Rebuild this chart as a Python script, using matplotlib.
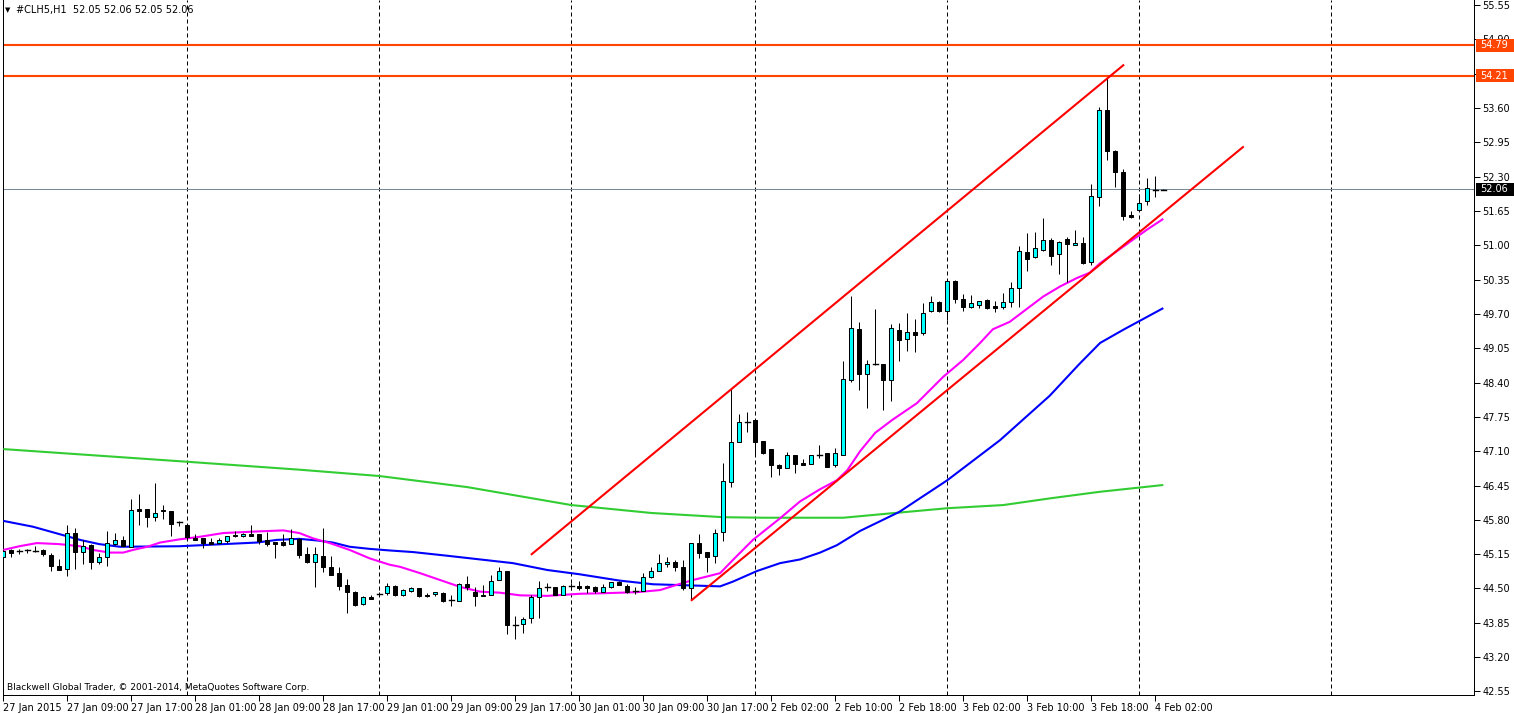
import matplotlib
matplotlib.use('Agg')
import matplotlib.pyplot as plt
from matplotlib.patches import Rectangle

# ---------------- data ----------------
opens = [45.10,45.23,45.21,45.22,45.21,45.23,45.13,44.93,44.86,45.56,45.20,45.32,45.01,45.10,45.35,45.41,45.29,46.00,46.00,45.85,
         45.99,45.97,45.75,45.70,45.45,45.46,45.38,45.37,45.39,45.52,45.49,45.54,45.53,45.41,45.38,45.38,45.35,45.44,45.15,45.01,
         45.12,44.91,44.79,44.56,44.43,44.20,44.34,44.40,44.42,44.55,44.37,44.46,44.50,44.37,44.39,44.41,44.29,44.27,44.58,44.44,
         44.38,44.37,44.66,44.83,43.80,43.83,43.95,44.33,44.52,44.52,44.38,44.54,44.55,44.55,44.53,44.44,44.52,44.63,44.55,44.46,
         44.46,44.71,44.84,44.96,45.00,44.90,44.50,45.37,45.20,45.11,45.57,46.51,47.27,47.65,47.69,47.29,47.14,46.84,46.79,47.03,
         46.88,46.85,47.03,47.06,46.83,47.03,48.44,49.41,48.56,48.76,48.75,48.44,49.40,49.22,49.35,49.33,49.76,49.93,49.76,50.32,
         49.98,49.84,49.87,49.96,49.85,49.84,49.92,50.20,50.87,50.77,50.92,51.10,50.83,51.12,51.01,51.05,50.68,51.91,53.57,52.79,
         52.38,51.57,51.67,51.83,52.05,52.05]
highs = [45.23,45.24,45.25,45.25,45.30,45.25,45.17,45.05,45.70,45.64,45.42,45.34,45.18,45.59,45.56,45.50,46.19,46.29,46.00,46.49,
         46.08,45.97,45.78,45.70,45.53,45.46,45.46,45.45,45.49,45.58,45.55,45.70,45.53,45.57,45.38,45.53,45.62,45.46,45.29,45.29,
         45.64,45.12,44.91,44.68,44.46,44.35,44.38,44.43,44.60,44.56,44.49,44.52,44.51,44.41,44.44,44.44,44.38,44.60,44.74,44.53,
         44.57,44.76,44.90,44.83,43.98,43.96,44.38,44.64,44.60,44.52,44.57,44.60,44.65,44.57,44.55,44.59,44.63,44.64,44.58,44.52,
         44.80,44.90,45.15,45.09,45.03,45.03,45.37,45.53,45.20,45.63,46.88,48.28,47.80,47.84,47.69,47.30,47.15,46.86,47.09,47.03,
         46.96,47.03,47.22,47.07,47.17,48.80,50.04,49.55,48.82,49.79,48.76,49.51,49.53,49.72,49.60,49.91,50.04,49.95,50.34,50.34,
         50.08,50.06,49.95,49.98,49.94,50.09,50.31,50.99,51.23,51.25,51.52,51.13,51.08,51.15,51.29,51.16,52.17,53.62,54.18,52.80,
         52.45,51.65,51.97,52.28,52.31,52.06]
lows = [45.07,45.09,45.15,45.18,45.20,45.12,44.84,44.85,44.74,44.87,44.96,44.87,44.96,44.93,45.32,45.30,45.29,45.70,45.66,45.78,
        45.81,45.50,45.69,45.42,45.41,45.27,45.35,45.34,45.37,45.47,45.47,45.49,45.34,45.31,45.08,45.31,45.35,45.08,44.98,44.52,
        44.82,44.76,44.48,44.03,44.17,44.19,44.30,44.38,44.38,44.36,44.36,44.43,44.33,44.33,44.36,44.25,44.16,44.26,44.48,44.17,
        44.35,44.37,44.66,43.64,43.54,43.66,43.85,43.95,44.46,44.38,44.38,44.48,44.47,44.41,44.41,44.44,44.50,44.57,44.42,44.39,
        44.46,44.70,44.84,44.91,44.84,44.47,44.28,45.07,44.81,44.99,45.39,46.42,47.27,47.47,47.03,47.05,46.62,46.65,46.78,46.68,
        46.83,46.85,46.98,46.80,46.81,47.02,48.42,48.25,47.91,48.73,47.88,48.06,48.80,48.99,48.97,49.31,49.74,49.74,49.58,49.90,
        49.76,49.82,49.82,49.79,49.74,49.80,49.84,49.84,50.52,50.76,50.90,50.63,50.45,50.31,51.00,50.64,50.63,51.75,52.61,52.11,
        51.47,51.51,51.66,51.76,51.92,52.05]
closes = [45.21,45.18,45.21,45.22,45.21,45.15,44.93,44.85,45.56,45.20,45.30,45.01,45.09,45.37,45.41,45.30,45.98,45.97,45.86,45.93,
          45.96,45.73,45.75,45.47,45.42,45.37,45.35,45.41,45.49,45.49,45.53,45.50,45.39,45.35,45.35,45.32,45.46,45.14,45.00,45.15,
          44.90,44.76,44.55,44.43,44.19,44.33,44.31,44.40,44.54,44.38,44.48,44.50,44.35,44.35,44.43,44.26,44.29,44.58,44.52,44.35,
          44.35,44.65,44.84,43.80,43.80,43.93,44.33,44.50,44.52,44.38,44.55,44.54,44.51,44.50,44.46,44.52,44.62,44.57,44.44,44.46,
          44.71,44.84,44.98,45.00,44.91,44.50,45.37,45.18,45.10,45.56,46.54,47.27,47.65,47.65,47.28,47.06,46.83,46.79,47.03,46.85,
          46.83,47.02,47.03,46.81,47.06,48.46,49.43,48.56,48.76,48.76,48.44,49.43,49.21,49.35,49.31,49.71,49.93,49.76,50.33,49.98,
          49.84,49.90,49.94,49.82,49.81,49.92,50.20,50.89,50.74,50.94,51.10,50.80,51.07,51.02,51.05,50.66,51.93,53.56,52.79,52.39,
          51.56,51.53,51.81,52.08,52.05,52.06]

# moving averages (bar index, price)
ma_fast_x = [0,2,4.2,7,9.6,11.2,13.3,15,16.2,18,19.6,22,24.6,27.5,31.7,35,37,38.7,40.8,43.3,45.8,48.3,49.6,52.1,54.6,57.1,59.6,
             62.1,64.6,68,72.1,75,79.2,82.1,84.2,86.2,88.3,89.6,91.2,93.7,97.1,99.6,102.1,104.2,105.5,107.1,109,111.1,114.2,117.5,
             120,122.1,123.7,125.8,130,132.1,134.2,135.8,137.1,142.9,145]
ma_fast_y = [45.23,45.30,45.36,45.34,45.30,45.23,45.18,45.18,45.23,45.29,45.37,45.43,45.48,45.55,45.58,45.60,45.55,45.45,45.36,
             45.23,45.07,44.95,44.91,44.79,44.66,44.53,44.44,44.42,44.37,44.36,44.40,44.41,44.43,44.47,44.57,44.66,44.74,44.79,
             45.04,45.42,45.83,46.15,46.38,46.55,46.74,47.10,47.45,47.69,48.01,48.51,48.83,49.15,49.41,49.55,50.03,50.22,50.38,50.48,
             50.66,51.29,51.50]
ma_mid_x = [0,3.7,7,9.6,12,14.6,22,27.5,31.7,34.2,37,39.2,41.2,43.3,45.8,48.3,51.2,55.5,59.6,63.7,68,72,77,81.2,85.5,89.6,91.2,
            94.2,97.1,99.6,102.1,104.2,107.1,112,118,124.6,130.8,134.5,137.1,140,145]
ma_mid_y = [45.78,45.67,45.53,45.42,45.34,45.29,45.30,45.34,45.37,45.42,45.44,45.41,45.37,45.29,45.25,45.22,45.19,45.12,45.05,
            44.98,44.85,44.77,44.65,44.58,44.56,44.54,44.63,44.83,44.98,45.05,45.18,45.32,45.59,45.95,46.55,47.31,48.15,48.75,49.15,49.40,49.81]
ma_slow_x = [0,23,37,47,58,71,81,90,95,105,110,118,125,131,137,145]
ma_slow_y = [47.14,46.90,46.75,46.63,46.42,46.08,45.93,45.85,45.84,45.84,45.91,46.02,46.08,46.21,46.33,46.46]

# drawn objects
trend_upper = [(66.05, 45.15), (140.0, 54.41)]
trend_lower = [(86.05, 44.28), (154.96, 52.86)]
hlines = [54.79, 54.21]
bid = 52.06
day_sep = [23, 47, 71, 94, 118, 142, 166]
xtick_pos = list(range(0, 145, 8))
xtick_labels = ["27 Jan 2015", "27 Jan 09:00", "27 Jan 17:00", "28 Jan 01:00", "28 Jan 09:00", "28 Jan 17:00",
                "29 Jan 01:00", "29 Jan 09:00", "29 Jan 17:00", "30 Jan 01:00", "30 Jan 09:00", "30 Jan 17:00",
                "2 Feb 02:00", "2 Feb 10:00", "2 Feb 18:00", "3 Feb 02:00", "3 Feb 10:00", "3 Feb 18:00", "4 Feb 02:00"]
ytick_vals = [round(42.55 + 0.65 * k, 2) for k in range(21)]
title = "#CLH5,H1  52.05 52.06 52.05 52.06"
footer = "Blackwell Global Trader, \u00a9 2001-2014, MetaQuotes Software Corp."

# ---------------- figure ----------------
W, H = 1514, 714
fig = plt.figure(figsize=(W / 100, H / 100), dpi=100)
fig.patch.set_facecolor('white')
ax = fig.add_axes([3 / W, 19 / H, (1474 - 3) / W, 695 / H])
ax.set_xlim(-0.04, 183.84)
ax.set_ylim(42.4826, 55.6455)
px = 0.72

for s in ['left', 'bottom', 'right']:
    ax.spines[s].set_linewidth(px)
    ax.spines[s].set_color('black')
ax.spines['top'].set_visible(False)

for d in day_sep:
    ax.axvline(d, color='black', lw=px, ls=(0, (4, 3)), zorder=1)

for v in hlines:
    ax.axhline(v, color='#FF4500', lw=1.5, zorder=2)
ax.axhline(bid, color='#778899', lw=px, zorder=2)

ax.plot(ma_slow_x, ma_slow_y, color='#32CD32', lw=1.5, zorder=3, solid_capstyle='butt')
ax.plot(ma_mid_x, ma_mid_y, color='#0000FF', lw=1.5, zorder=3, solid_capstyle='butt')
ax.plot(ma_fast_x, ma_fast_y, color='#FF00FF', lw=1.5, zorder=3, solid_capstyle='butt')

bw = 0.5
for i in range(len(opens)):
    o, h, l, c = opens[i], highs[i], lows[i], closes[i]
    ax.plot([i, i], [l, h], color='black', lw=px, zorder=4, solid_capstyle='butt')
    lo, hi = min(o, c), max(o, c)
    if hi - lo < 0.015:
        ax.plot([i - bw / 2 - 0.06, i + bw / 2 + 0.06], [o, o], color='black', lw=px * 1.4, zorder=5)
    else:
        fc = '#00FFFF' if c > o else 'black'
        ax.add_patch(Rectangle((i - bw / 2, lo), bw, hi - lo, facecolor=fc, edgecolor='black', lw=px, zorder=5))

for (p0, p1) in [trend_upper, trend_lower]:
    ax.plot([p0[0], p1[0]], [p0[1], p1[1]], color='#FF0000', lw=1.5, zorder=6)

# axes ticks
ax.set_xticks(xtick_pos)
ax.set_xticklabels(xtick_labels, fontsize=7)
for lab in ax.get_xticklabels():
    lab.set_horizontalalignment('left')
ax.tick_params(axis='x', direction='out', length=4, width=px, pad=2)
ax.yaxis.tick_right()
ax.set_yticks(ytick_vals)
ax.set_yticklabels([("" if abs(v - 54.25) < 1e-6 else f"{v:.2f}") for v in ytick_vals], fontsize=7)
ax.tick_params(axis='y', direction='out', length=4, width=px, pad=2)

# price tags on the right
def tag(val, fc):
    yfig = 19 + (val - 42.4826) / (55.6455 - 42.4826) * 695
    fig.patches.append(Rectangle((1476 / W, (yfig - 6.5) / H), 38 / W, 13 / H, transform=fig.transFigure,
                                 facecolor=fc, edgecolor='none', zorder=10))
    fig.text(1480 / W, yfig / H, f"{val:.2f}", color='white', fontsize=7, va='center', ha='left', zorder=11)

tag(54.79, '#FF4500')
tag(54.21, '#FF4500')
tag(bid, 'black')

fig.text(5 / W, (714 - 10) / H, "\u25bc", fontsize=5, va='center', ha='left')
fig.text(16 / W, (714 - 10) / H, title, fontsize=7, va='center', ha='left')
fig.text(7 / W, (714 - 688) / H, footer, fontsize=6.5, va='center', ha='left')

fig.savefig('out.png', dpi=100, facecolor='white')
